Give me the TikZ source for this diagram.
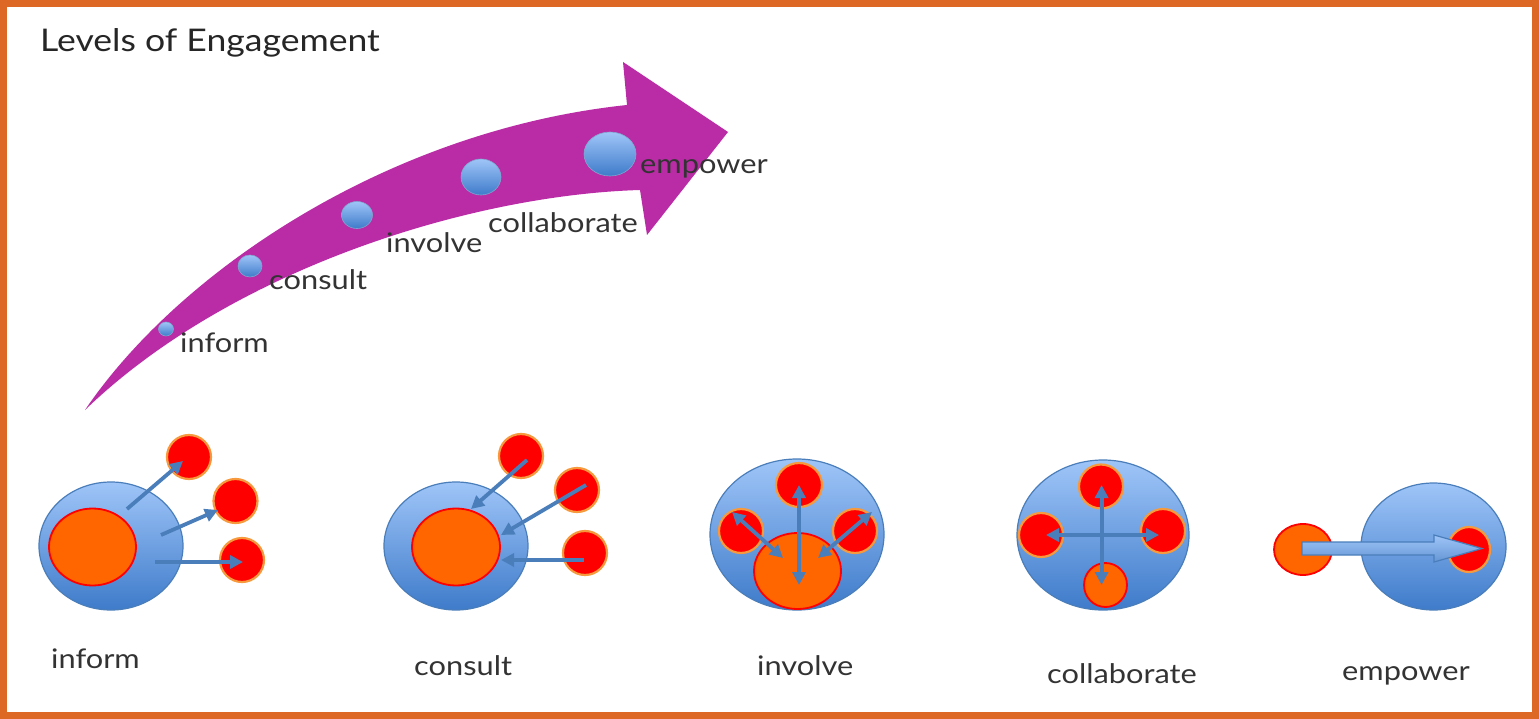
\documentclass[tikz,border=0pt]{standalone}
\usepackage{fontspec}
\setmainfont{Lato}[FakeStretch=1.14]
\usetikzlibrary{arrows.meta,shapes.geometric,calc}
\definecolor{frameorange}{HTML}{DD6724}
\definecolor{arrowmag}{HTML}{BA2CA6}
\definecolor{bluelight}{HTML}{9FC5F8}
\definecolor{bluedark}{HTML}{3E7BCA}
\definecolor{blueedge}{HTML}{4A7EBB}
\definecolor{bluearrow}{HTML}{4A7EBB}
\definecolor{orangefill}{HTML}{FF6600}
\definecolor{redfill}{HTML}{FF0000}
\definecolor{glow}{HTML}{F79A3E}
\definecolor{textgray}{HTML}{333333}
\begin{document}
\begin{tikzpicture}[x=1pt,y=-1pt,
  bigblue/.style={ellipse, draw=blueedge, line width=1.2pt, top color=bluelight, bottom color=bluedark, inner sep=0pt},
  dot/.style={ellipse, draw=blueedge!70, line width=0.6pt, top color=bluelight, bottom color=bluedark, inner sep=0pt},
  orng/.style={ellipse, draw=redfill, line width=1.8pt, fill=orangefill, inner sep=0pt},
  redc/.style={ellipse, draw=glow, line width=2.2pt, fill=redfill, inner sep=0pt, minimum width=44pt, minimum height=44pt},
  arr/.style={draw=bluearrow, line width=3.8pt, -{Triangle[length=13pt,width=13pt]}},
  darr/.style={draw=bluearrow, line width=3.8pt, {Triangle[length=13pt,width=13pt]}-{Triangle[length=13pt,width=13pt]}},
  lbl/.style={anchor=base west, inner sep=0pt, text=textgray, font=\fontsize{27}{30}\selectfont},
  blbl/.style={anchor=base west, inner sep=0pt, text=textgray, font=\fontsize{27}{30}\selectfont}
]
\useasboundingbox (0,0) rectangle (1539,719);
\fill[white] (0,0) rectangle (1539,719);
\draw[frameorange, line width=7pt] (3.5,3.5) rectangle (1535.5,715.5);

% title
\node[anchor=base west, inner sep=0pt, text=black!85, font=\fontsize{31.2}{35}\selectfont] (title) at (40,52) {Levels of Engagement};

% big magenta arrow
\fill[arrowmag] (85,410) .. controls (180,270) and (390,130) .. (627,105) -- (623,62) -- (728,132) -- (647,235) -- (640,190) .. controls (470,195) and (230,270) .. (85,410) -- cycle;

% dots on arrow
\node[dot, minimum width=15pt, minimum height=14pt] (d1) at (166,329) {};
\node[dot, minimum width=24pt, minimum height=22pt] (d2) at (250,266) {};
\node[dot, minimum width=31pt, minimum height=27pt] (d3) at (357,215) {};
\node[dot, minimum width=40pt, minimum height=36pt] (d4) at (481,177) {};
\node[dot, minimum width=52pt, minimum height=44pt] (d5) at (610,154) {};

\node[lbl] (l1) at (180,352) {inform};
\node[lbl] (l2) at (269,290) {consult};
\node[lbl] (l3) at (386,253) {involve};
\node[lbl] (l4) at (488,233) {collaborate};
\node[lbl] (l5) at (640,174) {empower};

% ---- inform
\node[bigblue, minimum width=144pt, minimum height=128pt] (infB) at (111,546) {};
\node[orng, minimum width=87pt, minimum height=77pt] (infO) at (92.5,547) {};
\node[redc] (infR1) at (189,457) {};
\node[redc] (infR2) at (235.5,501) {};
\node[redc] (infR3) at (242,560) {};
\coordinate (ia1) at (127,509); \coordinate (ib1) at (183,461);
\coordinate (ia2) at (161,535); \coordinate (ib2) at (218,510);
\coordinate (ia3) at (155,562); \coordinate (ib3) at (243,562);
\draw[arr] (ia1) -- (ib1);
\draw[arr] (ia2) -- (ib2);
\draw[arr] (ia3) -- (ib3);
\node[blbl] (b1) at (51,668) {inform};

% ---- consult
\node[bigblue, minimum width=144pt, minimum height=128pt] (conB) at (456,546) {};
\node[orng, minimum width=88pt, minimum height=77pt] (conO) at (456,547) {};
\node[redc] (conR1) at (521,456) {};
\node[redc] (conR2) at (577,490) {};
\node[redc] (conR3) at (585,553) {};
\coordinate (ca1) at (527,460); \coordinate (cb1) at (471,509);
\coordinate (ca2) at (586,485); \coordinate (cb2) at (501,535);
\coordinate (ca3) at (584,560); \coordinate (cb3) at (501,560);
\draw[arr] (ca1) -- (cb1);
\draw[arr] (ca2) -- (cb2);
\draw[arr] (ca3) -- (cb3);
\node[blbl] (b2) at (414,675) {consult};

% ---- involve
\node[bigblue, minimum width=174pt, minimum height=151pt] (invB) at (797,534.5) {};
\node[orng, minimum width=87pt, minimum height=76pt] (invO) at (797.5,571) {};
\node[redc, minimum width=46pt] (invR1) at (799,485) {};
\node[redc] (invR2) at (741,531) {};
\node[redc] (invR3) at (855,531) {};
\coordinate (va1) at (799,485); \coordinate (vb1) at (799,585);
\coordinate (va2) at (732,512); \coordinate (vb2) at (783,558);
\coordinate (va3) at (872,512); \coordinate (vb3) at (818,558);
\draw[darr] (va1) -- (vb1);
\draw[darr] (va2) -- (vb2);
\draw[darr] (va3) -- (vb3);
\node[blbl] (b3) at (757,675) {involve};

% ---- collaborate
\node[bigblue, minimum width=172pt, minimum height=150pt] (colB) at (1103,535) {};
\node[redc] (colR1) at (1101,486.5) {};
\node[redc] (colR2) at (1041,535) {};
\node[redc] (colR3) at (1163,531) {};
\node[orng, minimum width=43pt, minimum height=44pt] (colO) at (1105.5,585) {};
\coordinate (ka1) at (1101.6,485); \coordinate (kb1) at (1101.6,585);
\coordinate (ka2) at (1046,535); \coordinate (kb2) at (1159,535);
\draw[darr] (ka1) -- (kb1);
\draw[darr] (ka2) -- (kb2);
\node[blbl] (b4) at (1047,683) {collaborate};

% ---- empower
\node[bigblue, minimum width=145pt, minimum height=127pt] (empB) at (1433.5,546.5) {};
\node[orng, minimum width=58pt, minimum height=51pt] (empO) at (1303,549.5) {};
\node[redc, minimum width=42pt, minimum height=45pt] (empR) at (1469,549.5) {};
\coordinate (ea) at (1302,548.5); \coordinate (eb) at (1482,548.5);
\path[draw=blueedge, line width=1.2pt, top color=bluelight, bottom color=bluedark!80]
  ($(ea)+(0,-6.5)$) -- (1434,542) -- (1434,535) -- (eb) -- (1434,562) -- (1434,555) -- ($(ea)+(0,6.5)$) -- cycle;
\node[blbl] (b5) at (1342,680) {empower};
\end{tikzpicture}
\end{document}
